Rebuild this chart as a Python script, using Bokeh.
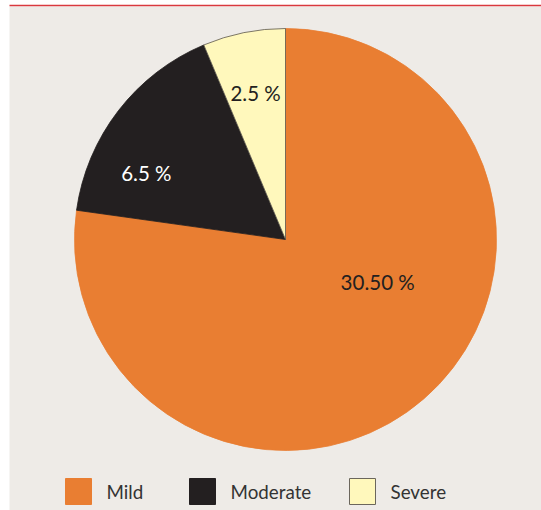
import math
from bokeh.plotting import figure
from bokeh.models import Range1d, ColumnDataSource
from bokeh.core.properties import value
from bokeh.embed import file_html
from bokeh.resources import INLINE

# ---- data ----
categories = ["Mild", "Moderate", "Severe"]
values = [30.50, 6.5, 2.5]
labels = ["30.50 %", "6.5 %", "2.5 %"]

# ---- style ----
colors = ["#E97E32", "#231F20", "#FFF8BC"]
edge_colors = ["#E97E32", "#231F20", "#5a554c"]
label_colors = ["#231F20", "#FFFFFF", "#231F20"]
label_polar = [(0.48, -24.5), (0.73, 154.6), (0.71, 101.5)]  # (radius fraction, angle deg)
legend_x = [65, 189, 349]
W, H = 541, 510
CX, CY, R = 285, H - 239, 211
FONT = "Lato"

total = sum(values)
# slices are laid anticlockwise from 12 o'clock in the order Severe, Moderate, Mild
order = [2, 1, 0]
start = {}
end = {}
a = math.pi / 2
for i in order:
    start[i] = a
    a += 2 * math.pi * values[i] / total
    end[i] = a

p = figure(width=W, height=H, x_range=Range1d(0, W), y_range=Range1d(0, H),
           output_backend="svg", toolbar_location=None, min_border=0)
p.axis.visible = False
p.grid.visible = False
p.outline_line_color = None
p.background_fill_color = "#FFFFFF"
p.border_fill_color = "#FFFFFF"

# panel background and top rule
p.quad(left=9, right=W, bottom=0, top=H - 6, fill_color="#EEEBE7", line_color=None)
p.segment(x0=9, y0=H - 5, x1=W, y1=H - 5, line_color="#D9393E", line_width=1.5)

src = ColumnDataSource(dict(
    cat=categories,
    start=[start[i] for i in range(3)],
    end=[end[i] for i in range(3)],
    color=colors,
    edge=edge_colors,
))
p.wedge(x=CX, y=CY, radius=R, start_angle="start", end_angle="end",
        fill_color="color", line_color="edge", line_width=0.8, source=src)

lx = [CX + f * R * math.cos(math.radians(ang)) for f, ang in label_polar]
ly = [CY + f * R * math.sin(math.radians(ang)) for f, ang in label_polar]
p.text(x=lx, y=ly, text=labels, text_color=label_colors, text_font=value(FONT),
       text_font_size="20.5px", text_align="center", text_baseline="middle")

# legend
ly0 = H - 491
p.rect(x=[x + 13 for x in legend_x], y=[ly0] * 3, width=26, height=26,
       fill_color=colors, line_color=["#E97E32", "#231F20", "#6b665c"], line_width=1)
p.text(x=[x + 41 for x in legend_x], y=[ly0] * 3, text=categories, text_color="#333333",
       text_font=value(FONT), text_font_size="18.8px", text_align="left", text_baseline="middle")

open("out.html", "w").write(file_html(p, INLINE))
